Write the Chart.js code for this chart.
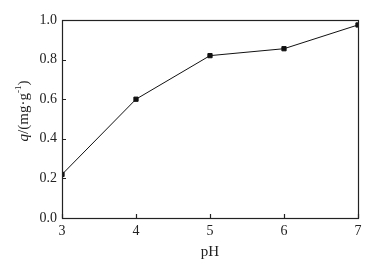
<!DOCTYPE html>
<html>
<head>
<meta charset="utf-8">
<script src="https://cdn.jsdelivr.net/npm/chart.js@4/dist/chart.umd.min.js"></script>
<style>
  html, body { margin: 0; padding: 0; background: #fff; }
  #wrap { width: 372px; height: 273px; position: relative; }
</style>
</head>
<body>
<div id="wrap"><canvas id="chart"></canvas></div>
<script>
// data
const phValues = [3, 4, 5, 6, 7];
const qValues = [0.22, 0.60, 0.82, 0.855, 0.975];
const xTicks = [3, 4, 5, 6, 7];
const yTicks = [0.0, 0.2, 0.4, 0.6, 0.8, 1.0];

const FONT = 'Liberation Serif, Times New Roman, serif';

// frame, inward ticks and axis titles
const framePlugin = {
  id: 'frame',
  afterDraw(chart) {
    const { ctx, chartArea: a, scales } = chart;
    ctx.save();
    ctx.strokeStyle = '#222';
    ctx.lineWidth = 1.2;
    ctx.strokeRect(a.left + 0.5, a.top + 0.5, a.right - a.left, a.bottom - a.top);

    ctx.beginPath();
    xTicks.forEach((v) => {
      const x = Math.round(scales.x.getPixelForValue(v)) + 0.5;
      ctx.moveTo(x, a.bottom);
      ctx.lineTo(x, a.bottom - 4);
    });
    yTicks.forEach((v) => {
      const y = Math.round(scales.y.getPixelForValue(v)) + 0.5;
      ctx.moveTo(a.left, y);
      ctx.lineTo(a.left + 4, y);
    });
    ctx.stroke();

    // x title
    ctx.fillStyle = '#222';
    ctx.font = '15px ' + FONT;
    ctx.textAlign = 'center';
    ctx.textBaseline = 'middle';
    ctx.fillText('pH', (a.left + a.right) / 2, 252);

    // y title with italic q and superscript -1
    ctx.translate(24, (a.top + a.bottom) / 2 - 8);
    ctx.rotate(-Math.PI / 2);
    const parts = [
      { t: 'q', f: 'italic 15px ' + FONT, dy: 0 },
      { t: '/(mg\u00b7g', f: '15px ' + FONT, dy: 0 },
      { t: '-1', f: '9px ' + FONT, dy: -5 },
      { t: ')', f: '15px ' + FONT, dy: 0 }
    ];
    let total = 0;
    parts.forEach((p) => { ctx.font = p.f; p.w = ctx.measureText(p.t).width; total += p.w; });
    let x = -total / 2;
    ctx.textAlign = 'left';
    parts.forEach((p) => {
      ctx.font = p.f;
      ctx.fillText(p.t, x, p.dy);
      x += p.w;
    });
    ctx.restore();
  }
};

new Chart(document.getElementById('chart'), {
  type: 'line',
  data: {
    datasets: [{
      data: phValues.map((x, i) => ({ x, y: qValues[i] })),
      borderColor: '#111',
      backgroundColor: '#111',
      borderWidth: 1,
      pointStyle: 'rect',
      pointRadius: 3,
      tension: 0,
      fill: false
    }]
  },
  options: {
    responsive: true,
    maintainAspectRatio: false,
    animation: false,
    layout: { padding: { top: 20, right: 14, left: 0, bottom: 0 } },
    plugins: { legend: { display: false }, tooltip: { enabled: false } },
    scales: {
      x: {
        type: 'linear',
        min: 3,
        max: 7,
        afterBuildTicks: (s) => { s.ticks = xTicks.map((v) => ({ value: v })); },
        afterFit: (s) => { s.height = 55; },
        grid: { display: false, drawTicks: false },
        border: { display: false },
        ticks: { padding: 5, color: '#222', font: { family: FONT, size: 14 } }
      },
      y: {
        min: 0,
        max: 1,
        afterBuildTicks: (s) => { s.ticks = yTicks.map((v) => ({ value: v })); },
        afterFit: (s) => { s.width = 62; },
        grid: { display: false, drawTicks: false },
        border: { display: false },
        ticks: {
          padding: 5,
          color: '#222',
          font: { family: FONT, size: 14 },
          callback: (v) => Number(v).toFixed(1)
        }
      }
    }
  },
  plugins: [framePlugin]
});
</script>
</body>
</html>
